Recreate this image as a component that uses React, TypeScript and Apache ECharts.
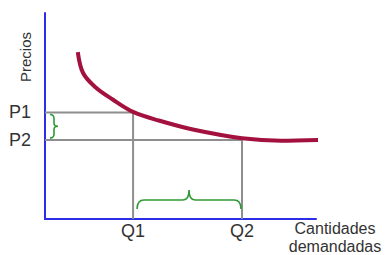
import React, { useEffect, useRef } from "react";
import * as echarts from "echarts";

// Demand curve points (quantity, price)
const curveQ = [1.21, 1.4, 1.85, 2.5, 3.25, 4.2, 5.5, 7.27, 8.7, 10.26];
const curveP = [8.1, 7.1, 6.41, 5.8, 5.2, 4.78, 4.33, 3.92, 3.8, 3.84];

// Reference levels
const priceNames = ["P1", "P2"];
const priceValues = [5.17, 3.83];
const qtyNames = ["Q1", "Q2"];
const qtyValues = [3.25, 7.27];

const AXIS_MAX = 10;

export default function App() {
  const ref = useRef<HTMLDivElement>(null);
  useEffect(() => {
    if (!ref.current) return;
    const chart = echarts.init(ref.current, null, { renderer: "svg" });
    const [P1, P2] = priceValues;
    const [Q1, Q2] = qtyValues;
    const curve = curveQ.map((q, i) => [q, curveP[i]]);
    const blue = "#2d2de8";
    const gray = "#8e8e8e";
    const green = "#2f9a35";
    const textColor = "#333333";
    const font = "Liberation Sans, Arial, sans-serif";

    chart.setOption({
      animation: false,
      backgroundColor: "#ffffff",
      grid: { left: 45, top: 13, width: 271, height: 209, containLabel: false },
      xAxis: {
        type: "value",
        min: 0,
        max: AXIS_MAX,
        axisLine: { show: true, lineStyle: { color: blue, width: 2 } },
        axisTick: { show: false },
        splitLine: { show: false },
        axisLabel: {
          customValues: qtyValues,
          formatter: (v: number) => qtyNames[qtyValues.indexOf(v)] ?? "",
          color: textColor,
          fontSize: 18,
          fontFamily: font,
          margin: 3,
        },
        name: "Cantidades\ndemandadas",
        nameLocation: "end",
        nameGap: 19,
        nameTextStyle: {
          color: textColor,
          fontSize: 16,
          fontFamily: font,
          align: "center",
          verticalAlign: "top",
          lineHeight: 18,
          padding: [0, 0, 0, 0],
        },
      },
      yAxis: {
        type: "value",
        min: 0,
        max: AXIS_MAX,
        axisLine: { show: true, lineStyle: { color: blue, width: 2 } },
        axisTick: { show: false },
        splitLine: { show: false },
        axisLabel: {
          customValues: priceValues,
          formatter: (v: number) => priceNames[priceValues.indexOf(v)] ?? "",
          color: textColor,
          fontSize: 18,
          fontFamily: font,
          margin: 14,
          padding: [0, 0, 8, 0],
        },
      },
      graphic: [
        {
          type: "text",
          x: 25,
          y: 57,
          rotation: Math.PI / 2,
          style: {
            text: "Precios",
            fill: textColor,
            fontSize: 15,
            fontFamily: font,
            align: "center",
            verticalAlign: "middle",
          },
        },
      ],
      series: [
        {
          type: "line",
          data: [[0, P1], [Q1, P1], [Q1, 0]],
          symbol: "none",
          lineStyle: { color: gray, width: 2 },
          z: 1,
        },
        {
          type: "line",
          data: [[0, P2], [Q2, P2], [Q2, 0]],
          symbol: "none",
          lineStyle: { color: gray, width: 2 },
          z: 1,
        },
        {
          type: "line",
          data: curve,
          smooth: 0.35,
          symbol: "none",
          clip: false,
          lineStyle: { color: "#a3113e", width: 4 },
          z: 3,
        },
        {
          type: "custom",
          clip: false,
          data: [[Q1, P1]],
          z: 2,
          renderItem: (params: any, api: any) => {
            const a = api.coord([0, P1]);
            const b = api.coord([0, P2]);
            const x0 = a[0] + 5;
            const top = a[1] + 2;
            const bot = b[1] - 2;
            const mid = (top + bot) / 2;
            const vPath =
              `M ${x0} ${top} Q ${x0 + 4} ${top} ${x0 + 4} ${top + 4} L ${x0 + 4} ${mid - 3} ` +
              `Q ${x0 + 4} ${mid} ${x0 + 8} ${mid} Q ${x0 + 4} ${mid} ${x0 + 4} ${mid + 3} ` +
              `L ${x0 + 4} ${bot - 4} Q ${x0 + 4} ${bot} ${x0} ${bot}`;
            const q1 = api.coord([Q1, 0]);
            const q2 = api.coord([Q2, 0]);
            const L = q1[0] + 4;
            const R = q2[0] - 1;
            const base = q1[1] - 19;
            const end = q1[1] - 10;
            const tip = q1[1] - 29;
            const m = (L + R) / 2;
            const hPath =
              `M ${L} ${end} Q ${L} ${base} ${L + 7} ${base} L ${m - 6} ${base} ` +
              `Q ${m} ${base} ${m} ${tip} Q ${m} ${base} ${m + 6} ${base} ` +
              `L ${R - 7} ${base} Q ${R} ${base} ${R} ${end}`;
            const style = { stroke: green, fill: "none", lineWidth: 1.6 };
            return {
              type: "group",
              children: [
                { type: "path", shape: { pathData: vPath }, style },
                { type: "path", shape: { pathData: hPath }, style },
              ],
            };
          },
        },
      ],
    });
    return () => chart.dispose();
  }, []);
  return (
    <div
      ref={ref}
      style={{ position: "fixed", left: 0, top: 0, width: 391, height: 255 }}
    />
  );
}
